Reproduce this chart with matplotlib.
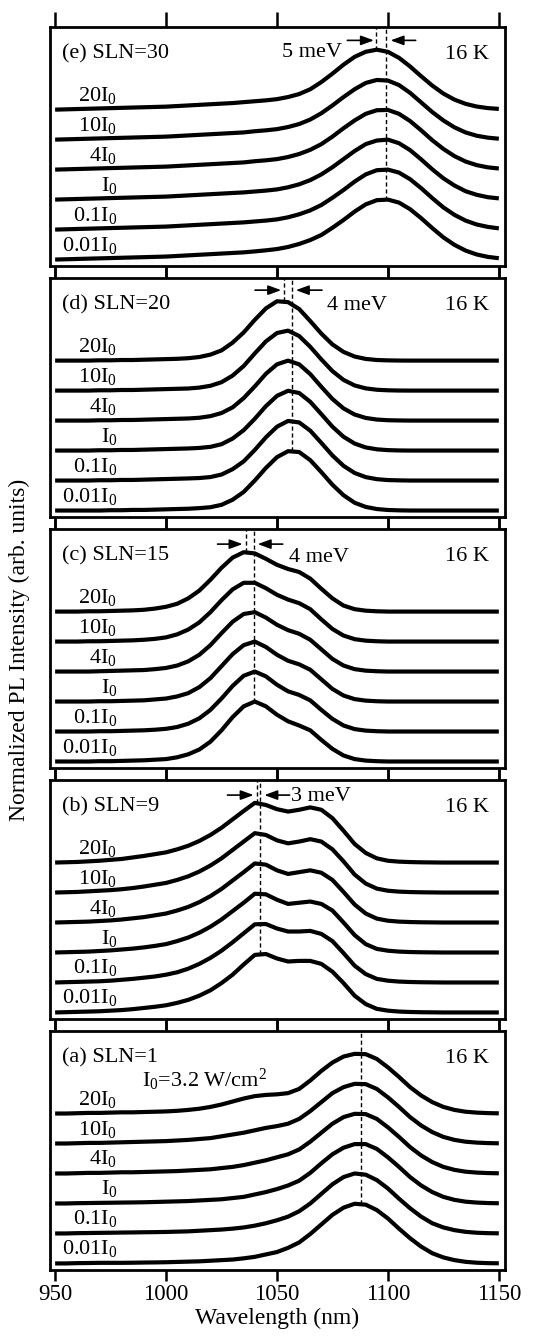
import numpy as np
import matplotlib
matplotlib.use('Agg')
import matplotlib.pyplot as plt

plt.rcParams['font.family'] = ['Liberation Serif', 'DejaVu Serif']
plt.rcParams['mathtext.fontset'] = 'custom'
plt.rcParams['mathtext.rm'] = 'Liberation Serif'
plt.rcParams['mathtext.it'] = 'Liberation Serif:italic'

wavelength = np.arange(950, 1151, 5)
power_labels = ['20I$_0$', '10I$_0$', '4I$_0$', 'I$_0$', '0.1I$_0$', '0.01I$_0$']

# (a) SLN=1, normalized PL, 20I0 ... 0.01I0
a_20 = [0, 0, 0.005, 0.01, 0.01, 0.015, 0.02, 0.02, 0.025, 0.03,
        0.035, 0.045, 0.06, 0.08, 0.11, 0.15, 0.20, 0.25, 0.29, 0.31,
        0.32, 0.34, 0.41, 0.55, 0.71, 0.85, 0.95, 0.995, 0.99, 0.91,
        0.77, 0.61, 0.44, 0.30, 0.19, 0.11, 0.06, 0.03, 0.015, 0.007, 0.003]
a_10 = [0, 0, 0.005, 0.01, 0.01, 0.015, 0.02, 0.025, 0.03, 0.035,
        0.04, 0.05, 0.06, 0.075, 0.09, 0.12, 0.15, 0.18, 0.22, 0.26,
        0.29, 0.33, 0.41, 0.54, 0.69, 0.84, 0.94, 0.995, 0.99, 0.91,
        0.77, 0.61, 0.44, 0.30, 0.19, 0.11, 0.06, 0.03, 0.015, 0.007, 0.003]
a_4 = [0, 0, 0.005, 0.01, 0.01, 0.015, 0.02, 0.02, 0.025, 0.03,
       0.035, 0.04, 0.05, 0.06, 0.07, 0.09, 0.11, 0.14, 0.18, 0.22,
       0.27, 0.32, 0.40, 0.53, 0.68, 0.83, 0.94, 0.995, 0.99, 0.91,
       0.77, 0.61, 0.44, 0.30, 0.19, 0.11, 0.06, 0.03, 0.015, 0.007, 0.003]
a_1 = [0, 0, 0.005, 0.007, 0.01, 0.012, 0.015, 0.017, 0.02, 0.025,
       0.03, 0.035, 0.04, 0.05, 0.06, 0.07, 0.09, 0.11, 0.15, 0.19,
       0.24, 0.30, 0.38, 0.51, 0.67, 0.82, 0.93, 0.99, 0.99, 0.91,
       0.77, 0.61, 0.44, 0.30, 0.19, 0.11, 0.06, 0.03, 0.015, 0.007, 0.003]
a_01 = [0, 0, 0.005, 0.007, 0.01, 0.012, 0.015, 0.017, 0.02, 0.022,
        0.025, 0.03, 0.035, 0.045, 0.055, 0.065, 0.08, 0.10, 0.13, 0.17,
        0.22, 0.28, 0.37, 0.50, 0.66, 0.82, 0.94, 1.0, 0.98, 0.89,
        0.75, 0.58, 0.42, 0.28, 0.17, 0.10, 0.055, 0.027, 0.012, 0.005, 0.002]
a_001 = [0, 0, 0.005, 0.007, 0.01, 0.01, 0.01, 0.012, 0.015, 0.017,
         0.02, 0.025, 0.03, 0.035, 0.045, 0.055, 0.065, 0.085, 0.11, 0.15,
         0.19, 0.26, 0.35, 0.49, 0.65, 0.81, 0.93, 0.995, 0.98, 0.89,
         0.75, 0.58, 0.42, 0.28, 0.17, 0.10, 0.055, 0.027, 0.012, 0.005, 0.002]

# (b) SLN=9
b_20 = [0, 0.005, 0.01, 0.02, 0.03, 0.045, 0.06, 0.085, 0.11, 0.14,
        0.17, 0.22, 0.28, 0.36, 0.46, 0.58, 0.72, 0.86, 0.995, 0.96,
        0.89, 0.85, 0.88, 0.92, 0.88, 0.74, 0.53, 0.31, 0.16, 0.07,
        0.03, 0.015, 0.008, 0.004, 0.002, 0, 0, 0, 0, 0, 0]
b_10 = [0, 0.005, 0.01, 0.02, 0.03, 0.04, 0.055, 0.075, 0.10, 0.13,
        0.16, 0.21, 0.27, 0.35, 0.45, 0.57, 0.71, 0.85, 0.99, 0.96,
        0.87, 0.82, 0.85, 0.89, 0.85, 0.72, 0.52, 0.30, 0.15, 0.065,
        0.03, 0.015, 0.008, 0.004, 0.002, 0, 0, 0, 0, 0, 0]
b_4 = [0, 0.005, 0.01, 0.015, 0.025, 0.035, 0.05, 0.07, 0.09, 0.12,
       0.15, 0.20, 0.26, 0.34, 0.44, 0.56, 0.70, 0.84, 0.985, 0.965,
       0.87, 0.81, 0.84, 0.87, 0.83, 0.71, 0.51, 0.30, 0.15, 0.065,
       0.03, 0.015, 0.008, 0.004, 0.002, 0, 0, 0, 0, 0, 0]
b_1 = [0, 0.005, 0.01, 0.015, 0.025, 0.035, 0.05, 0.065, 0.085, 0.11,
       0.14, 0.19, 0.25, 0.33, 0.43, 0.55, 0.69, 0.83, 0.98, 0.97,
       0.88, 0.81, 0.83, 0.85, 0.81, 0.70, 0.50, 0.29, 0.14, 0.06,
       0.03, 0.015, 0.008, 0.004, 0.002, 0, 0, 0, 0, 0, 0]
b_01 = [0, 0.005, 0.01, 0.015, 0.02, 0.03, 0.045, 0.06, 0.08, 0.10,
        0.13, 0.17, 0.23, 0.31, 0.41, 0.53, 0.67, 0.82, 0.97, 0.975,
        0.90, 0.85, 0.85, 0.86, 0.81, 0.69, 0.49, 0.28, 0.14, 0.06,
        0.03, 0.015, 0.008, 0.004, 0.002, 0, 0, 0, 0, 0, 0]
b_001 = [0, 0.005, 0.01, 0.015, 0.02, 0.03, 0.04, 0.055, 0.075, 0.095,
         0.12, 0.16, 0.21, 0.28, 0.37, 0.49, 0.63, 0.80, 0.96, 0.975,
         0.90, 0.85, 0.86, 0.86, 0.81, 0.68, 0.49, 0.28, 0.14, 0.06,
         0.03, 0.015, 0.008, 0.004, 0.002, 0, 0, 0, 0, 0, 0]

# (c) SLN=15
c_20 = [0, 0, 0, 0.005, 0.005, 0.01, 0.015, 0.02, 0.03, 0.05,
        0.08, 0.13, 0.22, 0.35, 0.53, 0.73, 0.90, 0.99, 0.97, 0.88,
        0.78, 0.71, 0.66, 0.55, 0.38, 0.22, 0.10, 0.04, 0.015, 0.005,
        0, 0, 0, 0, 0, 0, 0, 0, 0, 0, 0]
c_10 = [0, 0, 0, 0.005, 0.005, 0.01, 0.015, 0.02, 0.03, 0.045,
        0.07, 0.12, 0.20, 0.32, 0.49, 0.69, 0.87, 0.98, 0.98, 0.89,
        0.78, 0.70, 0.64, 0.54, 0.37, 0.21, 0.10, 0.04, 0.015, 0.005,
        0, 0, 0, 0, 0, 0, 0, 0, 0, 0, 0]
c_4 = [0, 0, 0, 0, 0.005, 0.01, 0.015, 0.02, 0.025, 0.04,
       0.06, 0.10, 0.17, 0.28, 0.44, 0.64, 0.83, 0.96, 0.99, 0.90,
       0.78, 0.69, 0.63, 0.53, 0.37, 0.21, 0.10, 0.04, 0.015, 0.005,
       0, 0, 0, 0, 0, 0, 0, 0, 0, 0, 0]
c_1 = [0, 0, 0, 0, 0.005, 0.005, 0.01, 0.015, 0.02, 0.035,
       0.05, 0.085, 0.14, 0.24, 0.39, 0.59, 0.79, 0.94, 1.0, 0.91,
       0.78, 0.68, 0.62, 0.53, 0.37, 0.21, 0.10, 0.04, 0.015, 0.005,
       0, 0, 0, 0, 0, 0, 0, 0, 0, 0, 0]
c_01 = [0, 0, 0, 0, 0.005, 0.005, 0.01, 0.015, 0.02, 0.03,
        0.045, 0.075, 0.13, 0.22, 0.36, 0.55, 0.76, 0.93, 1.0, 0.92,
        0.78, 0.67, 0.61, 0.52, 0.36, 0.21, 0.10, 0.04, 0.015, 0.005,
        0, 0, 0, 0, 0, 0, 0, 0, 0, 0, 0]
c_001 = [0, 0, 0, 0, 0.005, 0.005, 0.01, 0.015, 0.02, 0.03,
         0.04, 0.07, 0.12, 0.20, 0.33, 0.52, 0.74, 0.92, 1.0, 0.92,
         0.78, 0.67, 0.60, 0.52, 0.36, 0.21, 0.10, 0.04, 0.015, 0.005,
         0, 0, 0, 0, 0, 0, 0, 0, 0, 0, 0]

# (d) SLN=20
d_20 = [0, 0, 0, 0, 0.005, 0.005, 0.01, 0.01, 0.015, 0.02,
        0.025, 0.03, 0.04, 0.06, 0.10, 0.17, 0.30, 0.47, 0.68, 0.87,
        0.99, 0.975, 0.86, 0.66, 0.45, 0.27, 0.145, 0.068, 0.028, 0.01,
        0.004, 0.001, 0, 0, 0, 0, 0, 0, 0, 0, 0]
d_10 = [0, 0, 0, 0, 0.005, 0.005, 0.01, 0.01, 0.015, 0.02,
        0.025, 0.03, 0.035, 0.05, 0.08, 0.14, 0.25, 0.41, 0.62, 0.82,
        0.96, 1.0, 0.91, 0.73, 0.52, 0.325, 0.178, 0.086, 0.037, 0.014,
        0.005, 0.001, 0, 0, 0, 0, 0, 0, 0, 0, 0]
d_4 = [0, 0, 0, 0, 0.005, 0.005, 0.01, 0.01, 0.015, 0.02,
       0.025, 0.03, 0.035, 0.047, 0.074, 0.126, 0.22, 0.375, 0.57, 0.78,
       0.938, 1.0, 0.938, 0.775, 0.563, 0.36, 0.203, 0.101, 0.044, 0.017,
       0.006, 0.002, 0, 0, 0, 0, 0, 0, 0, 0, 0]
d_1 = [0, 0, 0, 0, 0.005, 0.005, 0.01, 0.01, 0.015, 0.02,
       0.025, 0.03, 0.035, 0.044, 0.062, 0.106, 0.20, 0.34, 0.53, 0.74,
       0.912, 0.997, 0.96, 0.813, 0.607, 0.398, 0.23, 0.117, 0.052, 0.021,
       0.007, 0.002, 0, 0, 0, 0, 0, 0, 0, 0, 0]
d_01 = [0, 0, 0, 0, 0.005, 0.005, 0.01, 0.01, 0.015, 0.02,
        0.025, 0.03, 0.035, 0.042, 0.058, 0.10, 0.19, 0.32, 0.51, 0.72,
        0.898, 0.994, 0.969, 0.832, 0.628, 0.418, 0.245, 0.126, 0.057, 0.023,
        0.008, 0.003, 0, 0, 0, 0, 0, 0, 0, 0, 0]
d_001 = [0, 0, 0, 0, 0, 0.005, 0.005, 0.01, 0.01, 0.015,
         0.02, 0.025, 0.03, 0.04, 0.055, 0.095, 0.18, 0.31, 0.50, 0.71,
         0.89, 0.99, 0.975, 0.84, 0.64, 0.43, 0.255, 0.13, 0.06, 0.025,
         0.009, 0.003, 0, 0, 0, 0, 0, 0, 0, 0, 0]

# (e) SLN=30
e_20 = [0, 0.005, 0.01, 0.015, 0.02, 0.025, 0.03, 0.035, 0.04, 0.045,
        0.05, 0.06, 0.07, 0.08, 0.09, 0.10, 0.11, 0.125, 0.14, 0.155,
        0.175, 0.21, 0.26, 0.34, 0.46, 0.60, 0.75, 0.88, 0.965, 1.0,
        0.964, 0.864, 0.72, 0.557, 0.401, 0.268, 0.167, 0.097, 0.052, 0.026, 0.012]
e_10 = [0, 0.005, 0.01, 0.015, 0.02, 0.025, 0.03, 0.035, 0.04, 0.045,
        0.05, 0.06, 0.07, 0.08, 0.09, 0.10, 0.11, 0.12, 0.14, 0.155,
        0.175, 0.21, 0.26, 0.335, 0.44, 0.57, 0.71, 0.84, 0.945, 0.995,
        0.985, 0.91, 0.78, 0.62, 0.46, 0.32, 0.205, 0.12, 0.065, 0.033, 0.015]
e_4 = [0, 0.005, 0.01, 0.015, 0.02, 0.025, 0.03, 0.035, 0.04, 0.045,
       0.05, 0.06, 0.07, 0.08, 0.09, 0.10, 0.11, 0.12, 0.14, 0.155,
       0.175, 0.21, 0.26, 0.33, 0.425, 0.55, 0.69, 0.82, 0.93, 0.99,
       0.995, 0.93, 0.81, 0.655, 0.49, 0.345, 0.225, 0.135, 0.075, 0.038, 0.018]
e_1 = [0, 0.005, 0.01, 0.015, 0.02, 0.025, 0.03, 0.035, 0.04, 0.045,
       0.05, 0.06, 0.07, 0.08, 0.09, 0.10, 0.11, 0.12, 0.135, 0.15,
       0.17, 0.205, 0.255, 0.325, 0.42, 0.54, 0.675, 0.81, 0.925, 0.985,
       1.0, 0.94, 0.825, 0.67, 0.505, 0.355, 0.235, 0.14, 0.08, 0.04, 0.02]
e_01 = [0, 0.005, 0.01, 0.015, 0.02, 0.025, 0.03, 0.035, 0.04, 0.045,
        0.05, 0.06, 0.07, 0.08, 0.09, 0.10, 0.11, 0.12, 0.135, 0.15,
        0.17, 0.205, 0.255, 0.32, 0.41, 0.53, 0.66, 0.80, 0.92, 0.99,
        1.0, 0.95, 0.84, 0.69, 0.525, 0.37, 0.245, 0.15, 0.085, 0.045, 0.02]
e_001 = [0, 0.005, 0.01, 0.015, 0.02, 0.025, 0.03, 0.035, 0.04, 0.045,
         0.05, 0.06, 0.07, 0.08, 0.09, 0.10, 0.11, 0.12, 0.136, 0.154,
         0.175, 0.21, 0.26, 0.325, 0.41, 0.53, 0.66, 0.80, 0.92, 0.99,
         1.0, 0.95, 0.84, 0.69, 0.525, 0.37, 0.245, 0.15, 0.085, 0.045, 0.022]

# panel info, top to bottom
panel_tags = ['(e) SLN=30', '(d) SLN=20', '(c) SLN=15', '(b) SLN=9', '(a) SLN=1']
panel_curves = [
    [e_20, e_10, e_4, e_1, e_01, e_001],
    [d_20, d_10, d_4, d_1, d_01, d_001],
    [c_20, c_10, c_4, c_1, c_01, c_001],
    [b_20, b_10, b_4, b_1, b_01, b_001],
    [a_20, a_10, a_4, a_1, a_01, a_001],
]
peak_high = [1094.7, 1053.0, 1036.0, 1040.8, None]   # peak at 20I0
peak_low = [1099.1, 1056.8, 1039.7, 1042.5, 1087.7]  # peak at 0.01I0
shift_text = ['5 meV', '4 meV', '4 meV', '3 meV', None]

# arrow layout: (right arrow x0, x1), (left arrow x0, x1), arrow y, text x, text y, text ha
arrow_layout = [
    ((1081.7, 1093.7), (1112.5, 1101.2), 7.31, 1079.4, 6.74, 'right'),
    ((1040.1, 1051.9), (1070.3, 1058.5), 7.35, 1072.5, 6.68, 'left'),
    ((1023.2, 1034.5), (1052.6, 1041.3), 7.25, 1055.6, 6.65, 'left'),
    ((1027.7, 1039.5), (1055.7, 1044.3), 7.25, 1056.5, 7.05, 'left'),
    None,
]

amp = 2.0
ytop = 7.75
fs = 16
fig = plt.figure(figsize=(5.35, 13.38), dpi=100)
left, width, height, gap, bottom0 = 0.0935, 0.8505, 0.1786, 0.00897, 0.0508

for k in range(5):
    ax = fig.add_axes([left, bottom0 + (4 - k) * (height + gap), width, height])
    curves = panel_curves[k]
    for i, spec in enumerate(curves):
        off = 5 - i
        ax.plot(wavelength, off + amp * np.array(spec), color='k', lw=3.0,
                solid_joinstyle='round', solid_capstyle='butt')
        ax.text(978, off + 0.3, power_labels[i], ha='right', va='baseline', fontsize=fs)

    # dashed markers at the peak positions
    top_peak = 5 + amp * max(curves[0])
    low_peak = 0 + amp * max(curves[-1])
    if peak_high[k] is not None:
        ax.vlines(peak_high[k], top_peak, ytop, colors='k', lw=1.0, linestyles=(0, (3, 2)))
    ax.vlines(peak_low[k], low_peak, ytop, colors='k', lw=1.0, linestyles=(0, (3, 2)))

    if arrow_layout[k] is not None:
        (r0, r1), (l0, l1), ya, tx, ty, tha = arrow_layout[k]
        for x0, x1 in [(r0, r1), (l0, l1)]:
            ax.annotate('', xy=(x1, ya), xytext=(x0, ya),
                        arrowprops=dict(arrowstyle='-|>,head_length=0.6,head_width=0.22',
                                        mutation_scale=13, lw=1.2, color='k',
                                        shrinkA=0, shrinkB=0))
        ax.text(tx, ty, shift_text[k], ha=tha, va='baseline', fontsize=fs)

    ax.text(953, 6.70, panel_tags[k], ha='left', va='baseline', fontsize=fs)
    ax.text(1145.6, 6.70, '16 K', ha='right', va='baseline', fontsize=fs)
    if k == 4:
        ax.text(989, 5.88, 'I$_0$=3.2 W/cm$^2$', ha='left', va='baseline', fontsize=fs)

    ax.set_xlim(947.7, 1152.8)
    ax.set_ylim(-0.22, ytop)
    ax.set_xticks([950, 1000, 1050, 1100, 1150])
    ax.set_yticks([])
    ax.tick_params(axis='x', direction='out', length=8, width=1.8,
                   top=True, bottom=True, labelsize=16.5, pad=2)
    for s in ax.spines.values():
        s.set_linewidth(2.0)
    if k == 0:
        for t in ax.xaxis.get_major_ticks():
            t.tick2line.set_markersize(11)
    if k < 4:
        ax.tick_params(axis='x', labelbottom=False)
    else:
        ax.set_xlabel('Wavelength (nm)', fontsize=17, labelpad=2)

fig.text(0.037, 0.514, 'Normalized PL Intensity (arb. units)', rotation=90,
         ha='center', va='center', fontsize=17)

fig.savefig('out.png', dpi=100)
